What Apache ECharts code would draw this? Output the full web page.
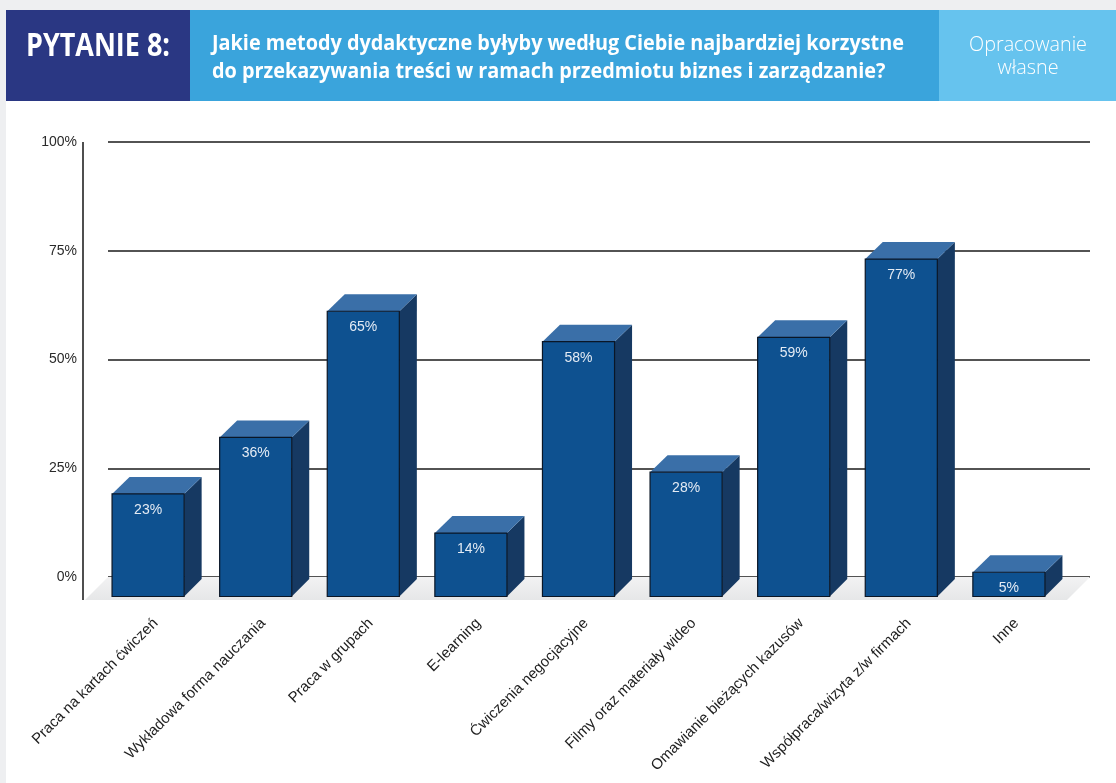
<!DOCTYPE html>
<html>
<head>
<meta charset="utf-8">
<script src="https://cdn.jsdelivr.net/npm/echarts@6/dist/echarts.min.js"></script>
<style>
  html, body { margin: 0; padding: 0; background: #ffffff; }
  #chart { width: 1116px; height: 783px; }
</style>
</head>
<body>
<div id="chart"></div>
<script>
// ---- data ----
const categories = [
  'Praca na kartach ćwiczeń',
  'Wykładowa forma nauczania',
  'Praca w grupach',
  'E-learning',
  'Ćwiczenia negocjacyjne',
  'Filmy oraz materiały wideo',
  'Omawianie bieżących kazusów',
  'Współpraca/wizyta z/w firmach',
  'Inne'
];
const shares = [23, 36, 65, 14, 58, 28, 59, 77, 5];
const percentTicks = [0, 25, 50, 75, 100];

const questionLabel = 'PYTANIE 8:';
const questionLines = [
  'Jakie metody dydaktyczne byłyby według Ciebie najbardziej korzystne',
  'do przekazywania treści w ramach przedmiotu biznes i zarządzanie?'
];
const sourceLines = ['Opracowanie', 'własne'];

// ---- look ----
const FRONT = '#0e5190';
const TOP = '#3a6fa8';
const SIDE = '#163962';
const EDGE = '#0a1626';
const DEPTH_X = 17.5;     // horizontal shift between back wall and bar front
const DEPTH_Y = 17;       // vertical shift of the bar's top edge
const BASE_Y = 19.5;      // vertical shift of the bar's bottom edge
const LABEL_SHIFT = 7.5;  // category tick sits this far right of the front-face centre
const FLOOR_DEPTH = 23;
const BAR_RATIO = 0.67;

// horizontal squeeze so a header line fits its box width
const measureCtx = document.createElement('canvas').getContext('2d');
function squeeze(text, font, width) {
  measureCtx.font = font;
  return width / measureCtx.measureText(text).width;
}

const titleFont = 'bold 22px "Open Sans"';
const titleScale = squeeze(questionLines[0], titleFont, 692);
const labelFont = 'bold 32px "Open Sans"';
const labelScale = squeeze(questionLabel, labelFont, 144);
const sourceFont = '300 21px "Open Sans"';
const sourceScale = Math.min(1, squeeze(sourceLines[0], sourceFont, 118));

function headerText(text, x, y, font, scale, align) {
  return {
    type: 'text', x: x, y: y, scaleX: scale, silent: true,
    style: { text: text, font: font, fill: '#ffffff', align: align, verticalAlign: 'middle' }
  };
}

const chart = echarts.init(document.getElementById('chart'), null, { renderer: 'canvas' });

function renderWallExtras(params, api) {
  const back0 = api.coord([0, 0]);
  const back1 = api.coord([1, 0]);
  const top = api.coord([0, percentTicks[percentTicks.length - 1]]);
  const d = FLOOR_DEPTH;
  return {
    type: 'group',
    children: [
      {
        type: 'polygon',
        shape: { points: [
          [back0[0], back0[1]], [back1[0], back1[1]],
          [back1[0] - d, back1[1] + d], [back0[0] - d, back0[1] + d]
        ] },
        style: {
          fill: new echarts.graphic.LinearGradient(0, 0, 0, 1, [
            { offset: 0, color: '#f2f2f3' },
            { offset: 1, color: '#e6e7e8' }
          ])
        }
      },
      {
        type: 'line',
        shape: { x1: back0[0] - d - 2, y1: top[1], x2: back0[0] - d - 2, y2: back0[1] + d },
        style: { stroke: '#151515', lineWidth: 1.5 }
      }
    ]
  };
}

function renderBar(params, api) {
  const i = api.value(0);
  const v = api.value(1);
  const tick = api.coord([i, v]);
  const base = api.coord([i, 0]);
  const band = api.size([1, 0])[0];
  const w = band * BAR_RATIO;
  const cx = tick[0] - LABEL_SHIFT;       // centre of the front face
  const xL = cx - w / 2, xR = cx + w / 2;
  const yBack = tick[1];                  // value level on the back wall
  const yT = yBack + DEPTH_Y;
  const yB = base[1] + BASE_Y;
  return {
    type: 'group',
    children: [
      {
        type: 'polygon',
        shape: { points: [[xR, yT], [xR + DEPTH_X, yBack], [xR + DEPTH_X, base[1] + 2], [xR, yB]] },
        style: { fill: SIDE }
      },
      {
        type: 'polygon',
        shape: { points: [[xL, yT], [xR, yT], [xR + DEPTH_X, yBack], [xL + DEPTH_X, yBack]] },
        style: { fill: TOP }
      },
      {
        type: 'rect',
        shape: { x: xL, y: yT, width: w, height: yB - yT },
        style: { fill: FRONT, stroke: EDGE, lineWidth: 1.2 }
      },
      {
        type: 'text',
        style: {
          text: v + '%', x: cx, y: yT + 16,
          fill: '#e4ebf4', font: '14px "Liberation Sans", Arial, sans-serif',
          align: 'center', verticalAlign: 'middle'
        }
      }
    ]
  };
}

const option = {
  backgroundColor: '#ffffff',
  animation: false,
  graphic: [
    { type: 'rect', shape: { x: 0, y: 0, width: 1116, height: 10 }, style: { fill: '#eeeff1' }, silent: true },
    { type: 'rect', shape: { x: 0, y: 0, width: 6, height: 783 }, style: { fill: '#eeeff1' }, silent: true },
    { type: 'rect', shape: { x: 6, y: 10, width: 184, height: 91 }, style: { fill: '#2a3783' }, silent: true },
    { type: 'rect', shape: { x: 190, y: 10, width: 749, height: 91 }, style: { fill: '#3aa4dc' }, silent: true },
    { type: 'rect', shape: { x: 939, y: 10, width: 177, height: 91 }, style: { fill: '#66c3ee' }, silent: true },
    headerText(questionLabel, 26, 47, labelFont, labelScale, 'left'),
    headerText(questionLines[0], 212, 44, titleFont, titleScale, 'left'),
    headerText(questionLines[1], 212, 72, titleFont, titleScale, 'left'),
    headerText(sourceLines[0], 1028, 45, sourceFont, sourceScale, 'center'),
    headerText(sourceLines[1], 1028, 68, sourceFont, sourceScale, 'center')
  ],
  grid: [
    { left: 108, right: 26, top: 142, bottom: 206 },
    { left: 101.8, right: 45.8, top: 142, bottom: 206 }
  ],
  xAxis: [
    { gridIndex: 0, type: 'value', min: 0, max: 1, show: false },
    {
      gridIndex: 1, type: 'category', data: categories,
      axisLine: { show: false }, axisTick: { show: false }, splitLine: { show: false },
      axisLabel: {
        interval: 0, rotate: 45, margin: 44,
        color: '#1e1e1e', fontSize: 15, fontFamily: '"Liberation Sans", Arial, sans-serif'
      }
    }
  ],
  yAxis: [
    {
      gridIndex: 0, type: 'value',
      min: percentTicks[0], max: percentTicks[percentTicks.length - 1],
      interval: percentTicks[1] - percentTicks[0],
      axisLine: { show: false }, axisTick: { show: false },
      splitLine: { show: true, lineStyle: { color: '#1a1a1a', width: 1.5 } },
      axisLabel: {
        formatter: '{value}%', margin: 31,
        color: '#2a2a2a', fontSize: 14, fontFamily: '"Liberation Sans", Arial, sans-serif'
      }
    },
    {
      gridIndex: 1, type: 'value',
      min: percentTicks[0], max: percentTicks[percentTicks.length - 1], show: false
    }
  ],
  series: [
    {
      type: 'custom', xAxisIndex: 0, yAxisIndex: 0, silent: true,
      data: [[0, 0]], renderItem: renderWallExtras, z: 1
    },
    {
      type: 'custom', xAxisIndex: 1, yAxisIndex: 1, silent: true,
      data: shares.map(function (v, i) { return [i, v]; }),
      encode: { x: 0, y: 1 }, renderItem: renderBar, z: 2
    }
  ]
};

chart.setOption(option);
</script>
</body>
</html>
